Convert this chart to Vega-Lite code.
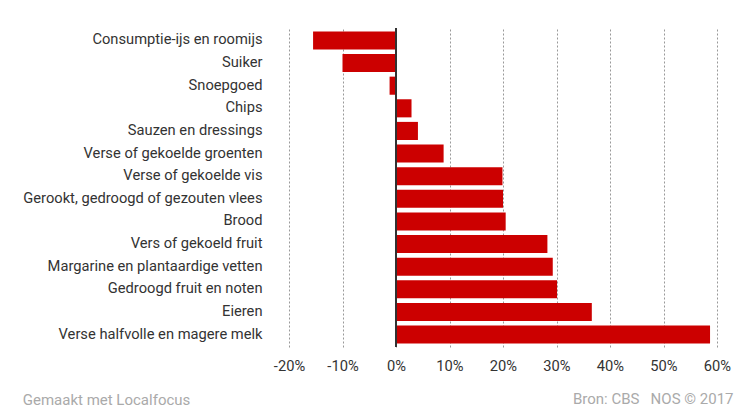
{
  "$schema": "https://vega.github.io/schema/vega-lite/v6.json",
  "width": 428,
  "height": 319,
  "autosize": {"type": "none"},
  "padding": {"left": 289, "top": 28, "right": 34, "bottom": 62},
  "background": "white",
  "config": {
    "font": "Roboto",
    "view": {"stroke": null},
    "axis": {"labelFont": "Roboto", "titleFont": "Roboto"}
  },
  "title": {
    "text": "Gemaakt met Localfocus",
    "orient": "bottom",
    "anchor": "start",
    "frame": "bounds",
    "font": "Roboto",
    "fontSize": 15,
    "fontWeight": "normal",
    "color": "#aaaaaa",
    "offset": -14
  },
  "data": {
    "values": [
      {"categorie": "Consumptie-ijs en roomijs", "verandering": -15.5},
      {"categorie": "Suiker", "verandering": -10.0},
      {"categorie": "Snoepgoed", "verandering": -1.2},
      {"categorie": "Chips", "verandering": 2.9},
      {"categorie": "Sauzen en dressings", "verandering": 4.1},
      {"categorie": "Verse of gekoelde groenten", "verandering": 8.9},
      {"categorie": "Verse of gekoelde vis", "verandering": 19.9},
      {"categorie": "Gerookt, gedroogd of gezouten vlees", "verandering": 20.0},
      {"categorie": "Brood", "verandering": 20.5},
      {"categorie": "Vers of gekoeld fruit", "verandering": 28.3},
      {"categorie": "Margarine en plantaardige vetten", "verandering": 29.3},
      {"categorie": "Gedroogd fruit en noten", "verandering": 30.1},
      {"categorie": "Eieren", "verandering": 36.6},
      {"categorie": "Verse halfvolle en magere melk", "verandering": 58.7}
    ]
  },
  "layer": [
    {
      "mark": {"type": "bar", "color": "#cc0000"},
      "encoding": {
        "y": {
          "field": "categorie",
          "type": "nominal",
          "sort": null,
          "scale": {"paddingInner": 0.2, "paddingOuter": 0.15},
          "axis": {
            "title": null,
            "domain": false,
            "ticks": false,
            "labelPadding": 27,
            "labelFontSize": 14.7,
            "labelColor": "#333333",
            "labelLimit": 300
          }
        },
        "x": {
          "field": "verandering",
          "type": "quantitative",
          "scale": {"domain": [-20, 60], "nice": false},
          "axis": {
            "values": [-20, -10, 0, 10, 20, 30, 40, 50, 60],
            "labelExpr": "datum.value + '%'",
            "domain": false,
            "ticks": false,
            "labelPadding": 11,
            "labelFontSize": 14.7,
            "labelColor": "#333333",
            "labelFlush": false,
            "grid": true,
            "gridColor": "#999999",
            "gridDash": [2, 2],
            "gridWidth": 1,
            "title": "Bron: CBS\u00a0\u00a0\u00a0NOS © 2017",
            "titleX": 444,
            "titleAlign": "right",
            "titleFontSize": 15,
            "titleFontWeight": "normal",
            "titleColor": "#aaaaaa",
            "titlePadding": 19
          }
        }
      }
    },
    {
      "mark": {"type": "rule", "color": "#333333", "strokeWidth": 1},
      "encoding": {"x": {"datum": 0}}
    }
  ]
}
